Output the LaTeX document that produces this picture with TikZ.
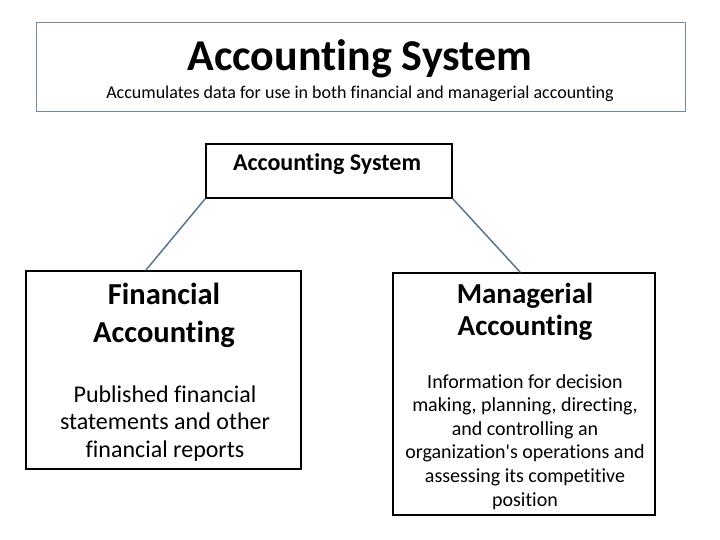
\documentclass[tikz,border=0pt]{standalone}
\usepackage{fontspec}
\setmainfont{Carlito}[Ligatures={TeX,NoCommon}]
\usetikzlibrary{calc}
\definecolor{bannerline}{HTML}{7289A0}
\definecolor{linkline}{HTML}{5A7494}

\begin{document}
\begin{tikzpicture}[
    x=1pt, y=-1pt,
    box/.style={draw=black, line width=2pt, anchor=north west},
    banner/.style={draw=bannerline, line width=1pt, anchor=north west},
    link/.style={draw=linkline, line width=1.5pt, line cap=round},
    every node/.style={color=black, inner sep=0pt}
    ]
    \useasboundingbox (0,0) rectangle (720,540);
    % banner at the top
    \node[banner, minimum width=649pt, minimum height=89pt] (banner) at (36,22) {};
    \node[anchor=base, font=\bfseries\fontsize{44}{50}\selectfont] (title)
        at (360,71) {Accounting System};
    \node[anchor=base, font=\fontsize{18}{20}\selectfont] (subtitle)
        at (360,99) {Accumulates data for use in both financial and managerial accounting};
    % boxes
    \node[box, minimum width=246pt, minimum height=54pt] (sys) at (205,143) {};
    \node[box, minimum width=275pt, minimum height=198pt] (fin) at (25,270) {};
    \node[box, minimum width=262pt, minimum height=242pt] (man) at (392,272) {};
    % box texts (base = last line)
    \node[anchor=base, font=\bfseries\fontsize{24}{28}\selectfont] (systext)
        at (327,171) {Accounting System};
    \node[anchor=base, align=center, font=\bfseries\fontsize{30.5}{38}\selectfont] (fintitle)
        at (164,342) {Financial\\Accounting};
    \node[anchor=base, align=center, font=\fontsize{24}{27.5}\selectfont] (finbody)
        at (165,457) {Published financial\\statements and other\\financial reports};
    \node[anchor=base, align=center, font=\bfseries\fontsize{29}{31.5}\selectfont] (mantitle)
        at (525,335) {Managerial\\Accounting};
    \node[anchor=base, align=center, font=\fontsize{20}{23.6}\selectfont] (manbody)
        at (525,506) {Information for decision\\making, planning, directing,\\and controlling an\\organization\textquotesingle s operations and\\assessing its competitive\\position};
    % links
    \coordinate (finTop) at ($(fin.north west)+(121,0)$);
    \coordinate (manTop) at ($(man.north west)+(128,0)$);
    \draw[link] (sys.south west) -- (finTop);
    \draw[link] (sys.south east) -- (manTop);
\end{tikzpicture}
\end{document}
